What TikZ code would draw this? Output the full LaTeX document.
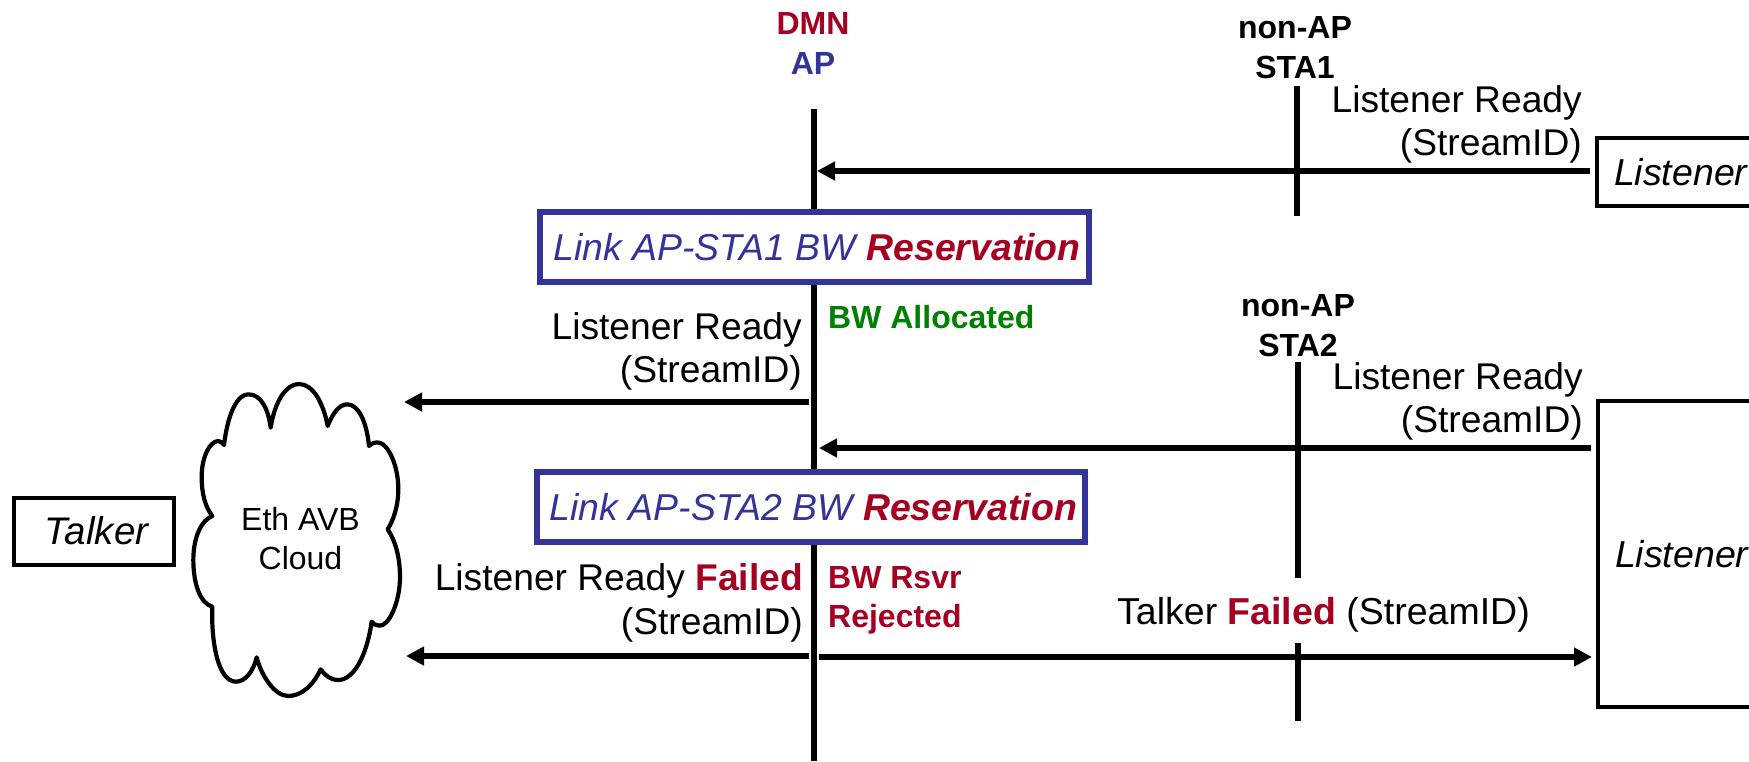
\documentclass[tikz,border=0pt]{standalone}
\usepackage{fontspec}
\setmainfont{Liberation Sans}
\usetikzlibrary{arrows.meta}
\definecolor{apblue}{HTML}{333399}
\definecolor{failred}{HTML}{A50021}
\definecolor{okgreen}{HTML}{008000}
\newcommand{\failed}[1]{\textcolor{failred}{\textbf{#1}}}
\tikzset{
  lifeline/.style={line width=5.6pt,black},
  msg/.style={line width=5.6pt,black,-{Triangle[length=18pt,width=18pt]}},
  bigtext/.style={inner sep=0pt,font=\fontsize{37.2}{43.5}\selectfont,align=right},
  midtext/.style={inner sep=0pt,font=\fontsize{32}{39}\selectfont\bfseries,align=center},
  smalltext/.style={inner sep=0pt,font=\fontsize{32}{39}\selectfont,align=center},
  rsvbox/.style={draw=apblue,line width=5.4pt,fill=white,minimum height=70pt,inner sep=0pt,outer sep=0pt,font=\fontsize{37.4}{44}\selectfont\itshape,text=apblue},
  entity/.style={draw=black,line width=4pt,fill=white,inner sep=0pt,outer sep=0pt,font=\fontsize{37.5}{44}\selectfont\itshape},
  listenerbox/.style={entity,minimum width=180pt,text width=146pt,align=left},
}
\begin{document}
\begin{tikzpicture}[x=1pt,y=-1pt]
\useasboundingbox (0,0) rectangle (1749,761);
\clip (0,0) rectangle (1749,761);
% lifelines
\coordinate (apT) at (814,109);
\coordinate (apB) at (814,761);
\coordinate (s1T) at (1297,86);
\coordinate (s1B) at (1297,216);
\coordinate (s2T) at (1298,362);
\coordinate (s2M) at (1298,578);
\coordinate (s2N) at (1298,643);
\coordinate (s2B) at (1298,721);
\draw[lifeline] (apT) -- (apB);
\draw[lifeline] (s1T) -- (s1B);
\draw[lifeline] (s2T) -- (s2M);
\draw[lifeline] (s2N) -- (s2B);
% head labels
\node[midtext,anchor=base,text=failred] (dmn) at (813,34) {DMN};
\node[midtext,anchor=base,text=apblue] (ap) at (813,74) {AP};
\node[midtext,anchor=base] (na1) at (1295,38) {non-AP};
\node[midtext,anchor=base] (sta1) at (1295,78) {STA1};
\node[midtext,anchor=base] (na2) at (1298,316) {non-AP};
\node[midtext,anchor=base] (sta2) at (1298,356) {STA2};
% entities
\node[listenerbox,anchor=west,minimum height=68pt] (listenerA) at (1597,172) {Listener};
\node[listenerbox,anchor=west,minimum height=306pt] (listenerB) at (1598,554) {Listener};
\node[entity,minimum width=160pt,minimum height=67pt,font=\fontsize{38.5}{44}\selectfont\itshape] (talker) at (93.5,531) {\hspace{6pt}Talker};
% cloud
\begin{scope}[shift={(150pt,-360pt)},x=0.33333pt,y=-0.33333pt]
\draw[line width=4.2pt,line join=round,black,fill=white] (222,255)
 .. controls (235,150) and (265,103) .. (295,103)
 .. controls (335,103) and (355,150) .. (362,203)
 .. controls (375,120) and (410,72) .. (447,72)
 .. controls (490,72) and (520,130) .. (533,198)
 .. controls (550,155) and (570,133) .. (592,133)
 .. controls (625,133) and (650,185) .. (657,258)
 .. controls (665,250) and (672,247) .. (682,247)
 .. controls (715,247) and (745,320) .. (745,385)
 .. controls (745,440) and (730,480) .. (713,508)
 .. controls (735,540) and (750,590) .. (750,650)
 .. controls (750,730) and (715,800) .. (688,797)
 .. controls (678,797) and (670,792) .. (665,785)
 .. controls (650,890) and (610,960) .. (565,960)
 .. controls (540,960) and (525,945) .. (512,928)
 .. controls (490,975) and (455,1008) .. (415,1008)
 .. controls (375,1008) and (335,950) .. (320,892)
 .. controls (310,935) and (285,965) .. (258,965)
 .. controls (205,965) and (183,850) .. (187,740)
 .. controls (150,730) and (130,670) .. (130,600)
 .. controls (130,530) and (155,480) .. (187,468)
 .. controls (165,440) and (155,400) .. (155,350)
 .. controls (155,290) and (180,243) .. (205,243)
 .. controls (213,243) and (218,250) .. (222,255) -- cycle;
\end{scope}
\node[smalltext,anchor=base] (cloudtext) at (300.5,569) {Eth AVB\\Cloud};
% reservation boxes
\node[rsvbox,minimum width=549pt] (rsv1) at (814.5,247) {\hspace{5pt}\raisebox{-1pt}{Link AP-STA1 BW \textcolor{failred}{\textbf{Reservation}}}};
\node[rsvbox,minimum width=548pt] (rsv2) at (811,507) {\hspace{5pt}\raisebox{-1pt}{Link AP-STA2 BW \textcolor{failred}{\textbf{Reservation}}}};
% messages
\coordinate (m1a) at (1590,171);
\coordinate (m1b) at (817,171);
\coordinate (m2a) at (808.5,402);
\coordinate (m2b) at (404,402);
\coordinate (m3a) at (1591,448);
\coordinate (m3b) at (819,448);
\coordinate (m4a) at (809,656);
\coordinate (m4b) at (406,656);
\coordinate (m5a) at (819,657);
\coordinate (m5b) at (1592,657);
\draw[msg] (m1a) -- (m1b);
\draw[msg] (m2a) -- (m2b);
\draw[msg] (m3a) -- (m3b);
\draw[msg] (m4a) -- (m4b);
\draw[msg] (m5a) -- (m5b);
% message labels
\node[bigtext,anchor=base east] (l1) at (1582,155.5) {Listener Ready\\(StreamID)};
\node[bigtext,anchor=base east] (l2) at (802,382.5) {Listener Ready\\(StreamID)};
\node[bigtext,anchor=base east] (l3) at (1583,432.5) {Listener Ready\\(StreamID)};
\node[bigtext,anchor=base east] (l4) at (803,634) {Listener Ready \failed{Failed}\\(StreamID)};
\node[bigtext,anchor=base west,font=\fontsize{37.5}{43.5}\selectfont] (l5) at (1117,624) {Talker \failed{Failed} (StreamID)};
\node[midtext,anchor=base west,text=okgreen] (alloc) at (828,328) {BW Allocated};
\node[midtext,anchor=base west,text=failred,align=left] (rej) at (828,627) {BW Rsvr\\Rejected};
\end{tikzpicture}
\end{document}
